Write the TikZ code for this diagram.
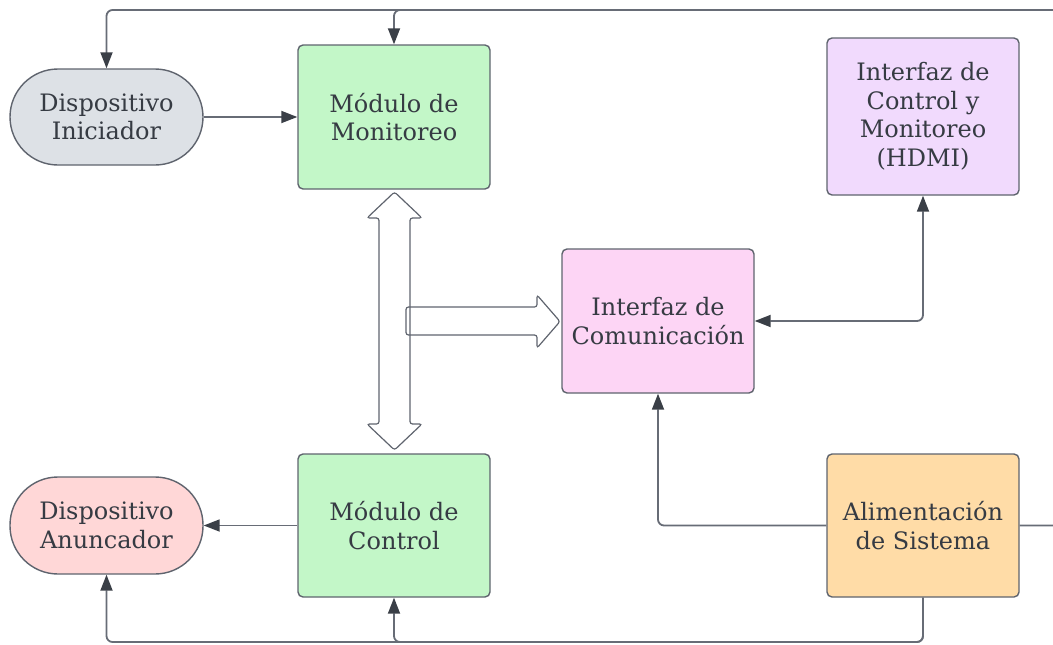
\documentclass[tikz,border=0pt]{standalone}
\usepackage{fontspec}
\setmainfont{DejaVu Serif}
\usetikzlibrary{arrows.meta}

\definecolor{txt}{HTML}{363B43}
\definecolor{edge}{HTML}{5F646E}
\definecolor{wire}{HTML}{676C76}
\definecolor{tipc}{HTML}{3A3F47}
\definecolor{fgray}{HTML}{DDE1E6}
\definecolor{fgreen}{HTML}{C3F7C8}
\definecolor{fpurple}{HTML}{F1DAFD}
\definecolor{fpink}{HTML}{FDD5F5}
\definecolor{fred}{HTML}{FFD7D7}
\definecolor{forange}{HTML}{FFDCA7}

\tikzset{
  tipshape/.style={},
  block/.style={draw=edge, line width=1.4pt, rounded corners=5pt,
    minimum width=192pt, inner sep=0pt, align=center, text=txt,
    font=\fontsize{24}{28.5}\selectfont},
  pill/.style={block, rounded corners=48pt, minimum width=193pt, minimum height=96pt},
  wirearrow/.style={draw=wire, line width=1.8pt, rounded corners=6pt,
    -{Triangle[length=16pt,width=12pt,color=tipc]}},
  wireboth/.style={wirearrow, {Triangle[length=16pt,width=12pt,color=tipc]}-{Triangle[length=16pt,width=12pt,color=tipc]}},
  fatarrow/.style={draw=edge, line width=1.2pt, rounded corners=2.5pt, fill=none}
}

\begin{document}
\begin{tikzpicture}[x=1pt, y=-1pt]
\useasboundingbox (0,0) rectangle (1053,645);

% blocks
\node[pill, fill=fgray] (ini) at (106.5,117) {Dispositivo\\Iniciador};
\node[block, fill=fgreen, minimum height=144pt] (mon) at (394,117) {Módulo de\\Monitoreo};
\node[block, fill=fpurple, minimum height=157pt] (hdmi) at (923,116.5) {Interfaz de\\Control y\\Monitoreo\\(HDMI)};
\node[block, fill=fpink, minimum height=144pt] (com) at (658,321) {Interfaz de\\Comunicación};
\node[pill, fill=fred, minimum height=97pt] (anun) at (106.5,525.5) {Dispositivo\\Anuncador};
\node[block, fill=fgreen, minimum height=143pt] (ctrl) at (394,525.5) {Módulo de\\Control};
\node[block, fill=forange, minimum height=143pt] (alim) at (923,525.5) {Alimentación\\de Sistema};

% routing points for the long power lines
\coordinate (offR) at (1075,525.5);
\coordinate (offT) at (1075,10);
\coordinate (bot) at (0,642);

% feedback over the top
\draw[wirearrow] (alim.east) -- (offR) -- (offT) -- (ini.north |- offT) -- (ini.north);
\draw[wirearrow] (offT) -- (mon.north |- offT) -- (mon.north);

% supply along the bottom
\draw[wirearrow] (alim.south) -- (alim.south |- bot) -- (anun.south |- bot) -- (anun.south);
\draw[wirearrow] (alim.south) -- (alim.south |- bot) -- (ctrl.south |- bot) -- (ctrl.south);

% remaining links
\draw[wirearrow] (ini.east) -- (mon.west);
\draw[wirearrow] (ctrl.west) -- (anun.east);
\draw[wirearrow] (alim.west) -| (com.south);
\draw[wireboth] (hdmi.south) |- (com.east);

% data bus between the modules
\draw[fatarrow] (394.5,192) -- (422,218) -- (410,218) -- (410,424) -- (422,424)
  -- (394.5,450) -- (367,424) -- (379,424) -- (379,218) -- (367,218) -- cycle;
\draw[fatarrow] (406,307) -- (537,307) -- (537,295) -- (560,321.5) -- (537,348)
  -- (537,335) -- (406,335) -- cycle;
\end{tikzpicture}
\end{document}
